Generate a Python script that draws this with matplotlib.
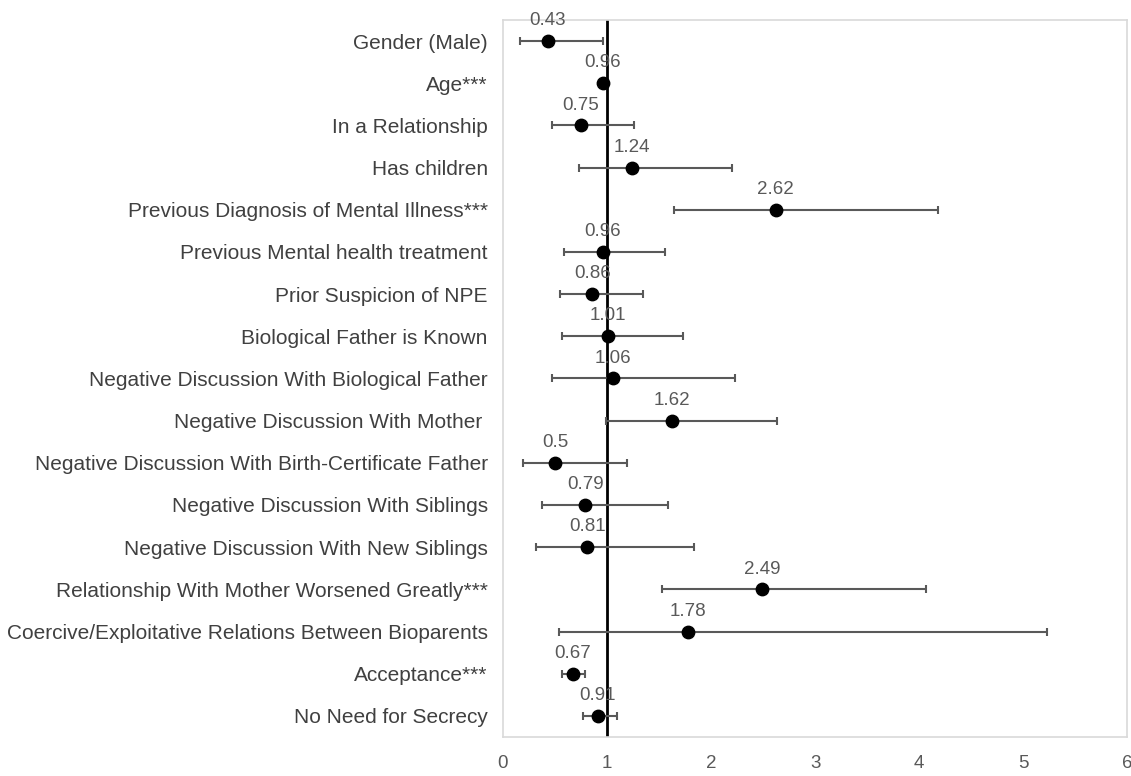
import numpy as np
import matplotlib.pyplot as plt

plt.rcParams['font.family'] = ['Liberation Sans', 'DejaVu Sans']

# Zmienne i ilorazy szans z przedziałami ufności
labels = [
    'Gender (Male)',
    'Age***',
    'In a Relationship',
    'Has children',
    'Previous Diagnosis of Mental Illness***',
    'Previous Mental health treatment',
    'Prior Suspicion of NPE',
    'Biological Father is Known',
    'Negative Discussion With Biological Father',
    'Negative Discussion With Mother ',
    'Negative Discussion With Birth-Certificate Father',
    'Negative Discussion With Siblings',
    'Negative Discussion With New Siblings',
    'Relationship With Mother Worsened Greatly***',
    'Coercive/Exploitative Relations Between Bioparents',
    'Acceptance***',
    'No Need for Secrecy',
]
odds = [0.43, 0.96, 0.75, 1.24, 2.62, 0.96, 0.86, 1.01, 1.06, 1.62,
        0.5, 0.79, 0.81, 2.49, 1.78, 0.67, 0.91]
ci_low = [0.16, 0.95, 0.47, 0.73, 1.64, 0.59, 0.545, 0.57, 0.475, 0.99,
          0.19, 0.38, 0.315, 1.525, 0.537, 0.564, 0.77]
ci_high = [0.96, 0.97, 1.26, 2.20, 4.18, 1.56, 1.35, 1.73, 2.23, 2.63,
           1.19, 1.59, 1.84, 4.07, 5.23, 0.79, 1.10]
xticks = [0, 1, 2, 3, 4, 5, 6]

odds = np.array(odds)
y = np.arange(len(labels))
err = np.vstack([odds - np.array(ci_low), np.array(ci_high) - odds])

fig = plt.figure(figsize=(11.31, 7.76), dpi=100)
ax = fig.add_axes([0.4447, 0.0503, 0.552, 0.924])

ax.axvline(1, color='black', linewidth=2, zorder=1)
ax.errorbar(odds, y, xerr=err, fmt='none', ecolor='#595959',
            elinewidth=1.5, capsize=3, capthick=1.5, zorder=2)
ax.scatter(odds, y, s=80, color='black', zorder=3)

# Etykiety wartości nad punktami
for xv, yv in zip(odds, y):
    ax.annotate(f'{xv:g}', (xv, yv), xytext=(0, 8.5), textcoords='offset points',
                ha='center', va='bottom', fontsize=13.5, color='#595959')

ax.set_xlim(0, 6)
ax.set_ylim(len(labels) - 0.5, -0.5)
ax.set_xticks(xticks)
ax.set_xticklabels([str(t) for t in xticks], fontsize=13.5, color='#595959')
ax.set_yticks(y)
ax.set_yticklabels(labels, fontsize=15, color='#404040')
ax.tick_params(axis='both', length=0)
ax.tick_params(axis='y', pad=11)
ax.tick_params(axis='x', pad=13)
for s in ax.spines.values():
    s.set_color('#D9D9D9')
    s.set_linewidth(1.2)

plt.savefig('out.png', dpi=100)
plt.close()
